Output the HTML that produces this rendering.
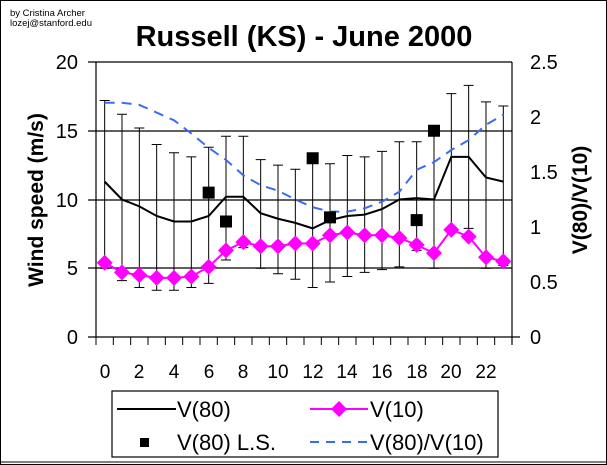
<!DOCTYPE html>
<html><head><style>
html,body{margin:0;padding:0;background:#fff}
svg{display:block;font-family:"Liberation Sans",Arial,sans-serif}
</style></head><body>
<svg id="s" width="607" height="465" viewBox="0 0 607 465" xmlns="http://www.w3.org/2000/svg">
<rect x="0.5" y="0.5" width="606" height="464" fill="#fff" stroke="#000"/>
<line x1="0" y1="462" x2="607" y2="462" stroke="#000" stroke-width="1"/>
<text x="10" y="16" font-size="9.5">by Cristina Archer</text>
<text x="10" y="26" font-size="9.5">lozej@stanford.edu</text>
<text x="304" y="46" font-size="29" font-weight="bold" text-anchor="middle">Russell (KS) - June 2000</text>
<g stroke="#000" stroke-width="1.2">
<line x1="88" y1="62" x2="512" y2="62"/>
<line x1="88" y1="131" x2="512" y2="131"/>
<line x1="88" y1="200" x2="512" y2="200"/>
<line x1="88" y1="268" x2="512" y2="268"/>
<line x1="88" y1="337" x2="520" y2="337"/>
<line x1="96" y1="62" x2="96" y2="337"/>
<line x1="512" y1="62" x2="512" y2="345"/>
</g>
<g font-size="20" text-anchor="end">
<text x="78" y="69">20</text><text x="78" y="138">15</text><text x="78" y="207">10</text>
<text x="78" y="275">5</text><text x="78" y="344">0</text>
</g>
<g font-size="20">
<text x="530" y="69">2.5</text><text x="530" y="124">2</text><text x="530" y="179">1.5</text>
<text x="530" y="234">1</text><text x="530" y="289">0.5</text><text x="530" y="344">0</text>
</g>
<g font-size="19" text-anchor="middle">
<text x="105" y="378">0</text><text x="139" y="378">2</text><text x="174" y="378">4</text>
<text x="209" y="378">6</text><text x="243" y="378">8</text><text x="278" y="378">10</text>
<text x="313" y="378">12</text><text x="347" y="378">14</text><text x="382" y="378">16</text>
<text x="417" y="378">18</text><text x="451" y="378">20</text><text x="486" y="378">22</text>
</g>
<text transform="translate(43,200) rotate(-90)" font-size="21" font-weight="bold" text-anchor="middle">Wind speed (m/s)</text>
<text transform="translate(587,200) rotate(-90)" font-size="21" font-weight="bold" text-anchor="middle">V(80)/V(10)</text>
<g id="d"></g>
<rect x="112" y="391" width="386" height="66" fill="#fff" stroke="#000" stroke-width="1.2"/>
<line x1="117" y1="409" x2="176" y2="409" stroke="#000" stroke-width="2"/>
<text x="177" y="417" font-size="22">V(80)</text>
<line x1="310" y1="409" x2="368" y2="409" stroke="#f0f" stroke-width="2"/>
<polygon points="339,401 347,409 339,417 331,409" fill="#f0f"/>
<text x="370" y="417" font-size="22">V(10)</text>
<rect x="140" y="438" width="9" height="9" fill="#000"/>
<text x="177" y="450" font-size="22">V(80) L.S.</text>
<line x1="310" y1="442" x2="368" y2="442" stroke="#3a6df0" stroke-width="2" stroke-dasharray="9,7"/>
<text x="370" y="450" font-size="22">V(80)/V(10)</text>
</svg>
<script>
var g=document.getElementById('d'),ns='http://www.w3.org/2000/svg';
function X(h){return 96+17.333*(h+0.5)}function Y(v){return 337-v*13.75}function R(r){return 337-r*110}
function el(t,a){var e=document.createElementNS(ns,t);for(var k in a)e.setAttribute(k,a[k]);g.appendChild(e);return e}
var v80=[11.3,10.0,9.5,8.8,8.4,8.4,8.8,10.2,10.2,9.0,8.6,8.3,7.9,8.5,8.8,8.9,9.3,10.0,10.1,10.0,13.1,13.1,11.6,11.3];
var v10=[5.4,4.7,4.5,4.3,4.3,4.4,5.1,6.3,6.9,6.6,6.6,6.8,6.8,7.4,7.6,7.4,7.4,7.2,6.7,6.1,7.8,7.3,5.8,5.5];
var rt=[2.13,2.13,2.11,2.04,1.97,1.85,1.72,1.61,1.47,1.38,1.33,1.25,1.18,1.14,1.14,1.17,1.23,1.32,1.52,1.59,1.70,1.79,1.93,2.02];
var top_=[17.2,16.2,15.2,14.0,13.4,13.1,13.8,14.6,14.6,12.9,12.5,12.2,12.8,12.6,13.2,13.1,13.5,14.2,14.2,15.0,17.7,18.3,17.1,16.8];
var bot=[5.0,4.1,3.6,3.4,3.4,3.6,3.9,5.6,6.5,5.0,4.6,4.2,3.6,4.0,4.4,4.7,4.9,5.1,6.3,5.0,7.8,7.9,5.0,5.2];
for(var h=0;h<=24;h++){var x=96+17.333*h;el('line',{x1:x,y1:337,x2:x,y2:345,stroke:'#000'})}
for(var h=0;h<24;h++){var x=X(h);
el('line',{x1:x,y1:Y(top_[h]),x2:x,y2:Y(bot[h]),stroke:'#000'});
el('line',{x1:x-5,y1:Y(top_[h]),x2:x+5,y2:Y(top_[h]),stroke:'#000'});
el('line',{x1:x-5,y1:Y(bot[h]),x2:x+5,y2:Y(bot[h]),stroke:'#000'});}
function pl(a,f,s,w,da){var p=a.map(function(v,i){return X(i)+','+f(v)}).join(' ');var o={points:p,fill:'none',stroke:s,'stroke-width':w};if(da)o['stroke-dasharray']=da;el('polyline',o)}
pl(v80,Y,'#000',2);
pl(rt,R,'#3a6df0',2,'10,7');
pl(v10,Y,'#f0f',2);
v10.forEach(function(v,i){var x=X(i),y=Y(v);el('polygon',{points:(x)+','+(y-8)+' '+(x+8)+','+y+' '+x+','+(y+8)+' '+(x-8)+','+y,fill:'#f0f'})});
[[6,10.5],[7,8.4],[12,13.0],[13,8.7],[18,8.5],[19,15.0]].forEach(function(p){el('rect',{x:X(p[0])-6,y:Y(p[1])-6,width:12,height:12,fill:'#000'})});
</script>
</body></html>
